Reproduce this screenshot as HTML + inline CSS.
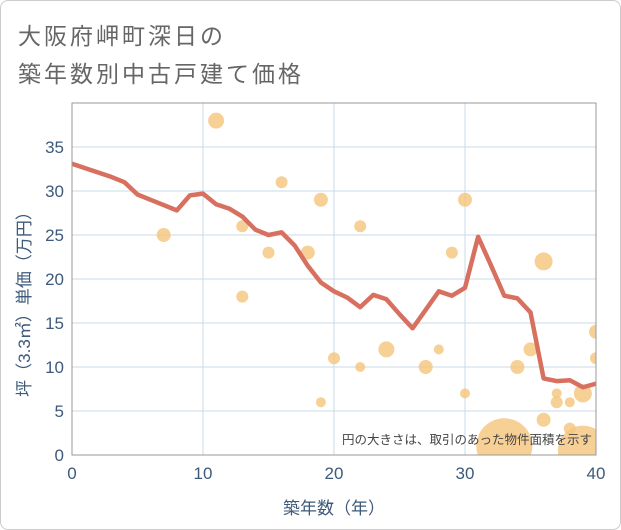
<!DOCTYPE html>
<html><head><meta charset="utf-8"><style>
body{margin:0;background:#fff;}
#wrap{position:relative;width:619px;height:528px;border:1px solid #ccc;border-radius:8px;overflow:hidden;font-family:"Liberation Sans","Noto Sans CJK JP",sans-serif;}
.title{position:absolute;left:17px;font-size:23px;color:#666;letter-spacing:3px;}
</style></head><body>
<div id="wrap">
<div class="title" style="top:16px">大阪府岬町深日の</div>
<div class="title" style="top:54px">築年数別中古戸建て価格</div>
<svg id="chart" width="621" height="530" style="position:absolute;left:-1px;top:-1px"></svg>
</div>
<script>
const xTicks=[0,10,20,30,40];
const yTicks=[0,5,10,15,20,25,30,35];
const lineYears=[0,1,2,3,4,5,6,7,8,9,10,11,12,13,14,15,16,17,18,19,20,21,22,23,24,25,26,27,28,29,30,31,32,33,34,35,36,37,38,39,40];
const linePrices=[33.1,32.6,32.1,31.6,31.0,29.6,29.0,28.4,27.8,29.5,29.7,28.5,28.0,27.1,25.6,25.0,25.3,23.8,21.5,19.6,18.6,17.9,16.8,18.2,17.7,16.0,14.4,16.5,18.6,18.1,19.0,24.8,21.5,18.1,17.8,16.2,8.7,8.4,8.5,7.7,8.1];
const bubbleYears=[7,11,13,13,15,16,18,19,19,20,22,22,24,27,28,29,30,30,33,34,35,36,36,37,37,38,38,39,40,40,39];
const bubblePrices=[25,38,26,18,23,31,23,29,6,11,26,10,12,10,12,23,29,7,1,10,12,22,4,7,6,6,3,7,14,11,0.5];
const bubbleSizes=[7,8,6,6,6,6,7,7,5,6,6,5,8,7,5,6,7,5,28,7,7,9,7,5,6,5,6,9,7,6,25];
const X0=72,X1=596,Y0=455,YT=103;
const sx=v=>X0+(v/40)*(X1-X0);
const sy=v=>Y0-v*8.8;
const svg=document.getElementById('chart');
const NS='http://www.w3.org/2000/svg';
function mk(t,a,p){const e=document.createElementNS(NS,t);for(const k in a)e.setAttribute(k,a[k]);(p||svg).appendChild(e);return e;}
const clip=mk('clipPath',{id:'pc'});mk('rect',{x:X0,y:YT,width:X1-X0,height:Y0-YT},clip);
yTicks.forEach(t=>{const l=mk('line',{x1:X0,x2:X1,y1:sy(t),y2:sy(t),stroke:'#c8d8e8','stroke-width':1});

const tx=mk('text',{x:X0-8,y:sy(t)+6,'text-anchor':'end','font-size':17,fill:'#3d5a7a'});tx.textContent=t;
});
xTicks.forEach(t=>{if(t>0&&t<40){const l=mk('line',{x1:sx(t),x2:sx(t),y1:YT,y2:Y0,stroke:'#c8d8e8','stroke-width':1});
}
const tx=mk('text',{x:sx(t),y:Y0+24,'text-anchor':'middle','font-size':17,fill:'#3d5a7a'});tx.textContent=t;
});
const g=mk('g',{'clip-path':'url(#pc)'});

bubbleYears.forEach((y,i)=>{const c=mk('circle',{cx:sx(y),cy:sy(bubblePrices[i]),r:bubbleSizes[i],fill:'#f5c47a','fill-opacity':0.8},g);
});
const pts=lineYears.map((y,i)=>sx(y)+','+sy(linePrices[i])).join(' ');
const pl=mk('polyline',{points:pts,fill:'none',stroke:'#d87060','stroke-width':4.5,'stroke-linejoin':'round'},g);

const fr=mk('rect',{x:X0,y:YT,width:X1-X0,height:Y0-YT,fill:'none',stroke:'#999','stroke-width':1});

const note=mk('text',{x:592,y:444,'text-anchor':'end','font-size':12.5,fill:'#444'});note.textContent='円の大きさは、取引のあった物件面積を示す';

const xt=mk('text',{x:334,y:514,'text-anchor':'middle','font-size':17,fill:'#3d5a7a'});xt.textContent='築年数（年）';

const yt=mk('text',{x:0,y:0,'text-anchor':'middle','font-size':17,fill:'#3d5a7a',transform:'translate(30,300) rotate(-90)'});yt.textContent='坪（3.3㎡）単価（万円）';

</script>
</body></html>
